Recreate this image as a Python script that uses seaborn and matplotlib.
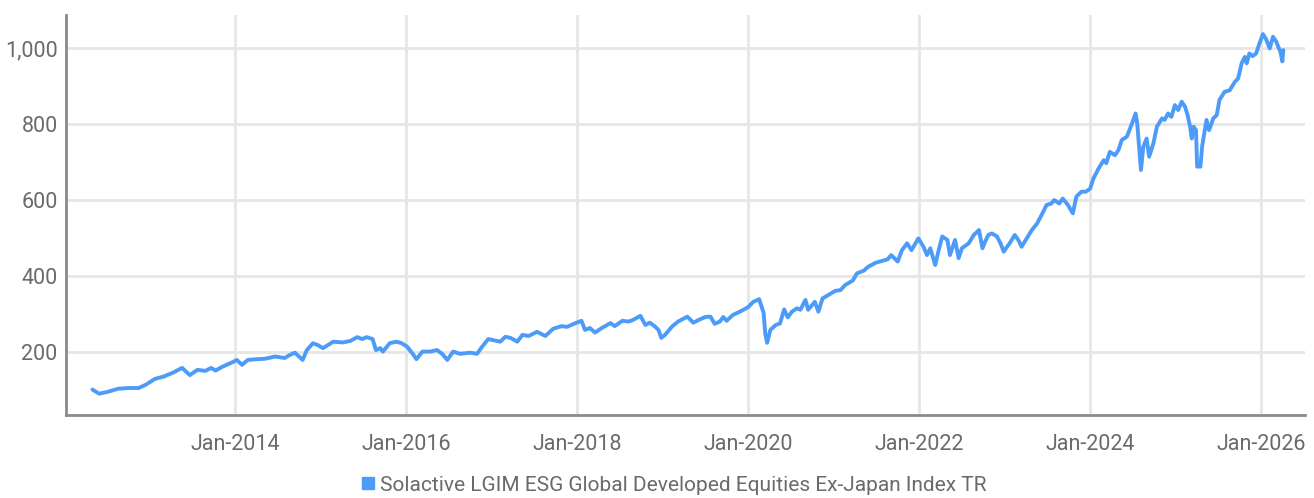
import pandas as pd
import seaborn as sns
import matplotlib.pyplot as plt
import matplotlib.dates as mdates
from matplotlib.ticker import FuncFormatter
from matplotlib.lines import Line2D

# index levels
dates = [
    "2012-05-01", "2012-05-30", "2012-07-05", "2012-08-18", "2012-10-01", "2012-11-14", "2012-12-13",
    "2013-01-23", "2013-02-28", "2013-04-09", "2013-05-19", "2013-06-21", "2013-07-24", "2013-08-26",
    "2013-09-20", "2013-10-09", "2013-11-07", "2013-12-17",
    "2014-01-08", "2014-01-30", "2014-02-24", "2014-04-05", "2014-05-08", "2014-06-21", "2014-07-31",
    "2014-08-22", "2014-09-13", "2014-10-16", "2014-11-03", "2014-11-29", "2014-12-20",
    "2015-01-11", "2015-02-24", "2015-04-06", "2015-05-08", "2015-06-06", "2015-06-28", "2015-07-16",
    "2015-08-11", "2015-08-25", "2015-09-13", "2015-09-24", "2015-10-23", "2015-11-21", "2015-12-13",
    "2016-01-05", "2016-01-27", "2016-02-14", "2016-03-11", "2016-04-13", "2016-05-12", "2016-06-03",
    "2016-06-25", "2016-07-20", "2016-08-18", "2016-10-01", "2016-10-30", "2016-11-21", "2016-12-17",
    "2017-01-15", "2017-02-06", "2017-02-28", "2017-03-22", "2017-04-20", "2017-05-12", "2017-06-07",
    "2017-07-13", "2017-08-18", "2017-09-20", "2017-10-27", "2017-11-18", "2017-12-25",
    "2018-01-19", "2018-02-03", "2018-02-24", "2018-03-18", "2018-04-16", "2018-05-23", "2018-06-10",
    "2018-07-13", "2018-08-08", "2018-08-26", "2018-09-28", "2018-10-19", "2018-11-07", "2018-11-29",
    "2018-12-14", "2018-12-26",
    "2019-01-11", "2019-02-10", "2019-03-08", "2019-04-16", "2019-05-12", "2019-06-03", "2019-07-02",
    "2019-07-24", "2019-08-11", "2019-09-02", "2019-09-17", "2019-10-01", "2019-10-27", "2019-12-06",
    "2020-01-01", "2020-01-23", "2020-02-17", "2020-03-07", "2020-03-14", "2020-03-22", "2020-04-05",
    "2020-04-28", "2020-05-16", "2020-06-03", "2020-06-18", "2020-07-06", "2020-07-28", "2020-08-11",
    "2020-09-02", "2020-09-13", "2020-10-12", "2020-10-27", "2020-11-14", "2020-12-09",
    "2021-01-08", "2021-01-30", "2021-02-18", "2021-03-23", "2021-04-10", "2021-05-09", "2021-05-27",
    "2021-06-29", "2021-07-17", "2021-08-19", "2021-09-03", "2021-09-21", "2021-10-01", "2021-10-19",
    "2021-11-10", "2021-11-29", "2021-12-28",
    "2022-01-19", "2022-02-03", "2022-02-17", "2022-03-10", "2022-03-25", "2022-04-09", "2022-05-01",
    "2022-05-12", "2022-06-03", "2022-06-18", "2022-07-02", "2022-07-31", "2022-08-22", "2022-09-13",
    "2022-09-28", "2022-10-09", "2022-10-23", "2022-11-07", "2022-11-29", "2022-12-14", "2022-12-28",
    "2023-01-11", "2023-01-22", "2023-02-13", "2023-02-28", "2023-03-14", "2023-04-05", "2023-04-27",
    "2023-05-19", "2023-06-07", "2023-06-29", "2023-07-20", "2023-07-31", "2023-08-22", "2023-09-06",
    "2023-09-28", "2023-10-19", "2023-11-03", "2023-11-25", "2023-12-13",
    "2024-01-01", "2024-01-15", "2024-02-06", "2024-02-28", "2024-03-10", "2024-03-25", "2024-04-16",
    "2024-05-01", "2024-05-15", "2024-06-06", "2024-06-28", "2024-07-13", "2024-07-20", "2024-07-27",
    "2024-08-05", "2024-08-15", "2024-08-29", "2024-09-09", "2024-09-27", "2024-10-12", "2024-11-03",
    "2024-11-14", "2024-11-29", "2024-12-13", "2024-12-28",
    "2025-01-11", "2025-01-26", "2025-02-09", "2025-02-20", "2025-03-03", "2025-03-10", "2025-03-18",
    "2025-03-28", "2025-04-02", "2025-04-16", "2025-04-23", "2025-05-12", "2025-05-23", "2025-06-10",
    "2025-06-25", "2025-07-06", "2025-07-28", "2025-08-19", "2025-09-10", "2025-09-24", "2025-10-09",
    "2025-10-23", "2025-10-31", "2025-11-11", "2025-11-25", "2025-12-10", "2025-12-24",
    "2026-01-08", "2026-01-22", "2026-02-06", "2026-02-20", "2026-03-06", "2026-03-14", "2026-03-24",
    "2026-04-01", "2026-04-05",
]
values = [
    101, 90, 95, 103, 105, 105, 113,
    129, 135, 145, 158, 139, 153, 150,
    158, 151, 161, 172,
    179, 166, 179, 181, 182, 188, 184,
    192, 198, 179, 205, 223, 218,
    210, 227, 225, 229, 239, 234, 239,
    234, 205, 210, 201, 223, 227, 223,
    214, 197, 181, 201, 201, 205, 195,
    179, 201, 195, 198, 195, 214, 234,
    230, 227, 240, 237, 227, 245, 242,
    253, 242, 261, 268, 266, 276,
    282, 258, 263, 251, 263, 276, 268,
    282, 280, 284, 295, 271, 277, 267,
    258, 237,
    245, 267, 280, 293, 277, 284, 292,
    293, 274, 280, 292, 282, 297, 309,
    318, 332, 339, 303, 249, 224, 258,
    271, 275, 312, 291, 306, 315, 311,
    337, 311, 332, 306, 341, 350,
    361, 363, 376, 388, 407, 414, 424,
    435, 438, 444, 455, 444, 438, 468,
    486, 468, 499,
    477, 455, 473, 429, 468, 504, 495,
    455, 495, 447, 473, 486, 508, 521,
    473, 490, 508, 512, 504, 486, 464,
    477, 486, 508, 495, 477, 499, 521,
    538, 560, 587, 591, 600, 591, 604,
    587, 565, 609, 622, 622,
    630, 657, 683, 705, 697, 727, 718,
    732, 758, 767, 802, 828, 802, 749,
    679, 740, 762, 714, 749, 793, 815,
    811, 828, 819, 850,
    837, 859, 846, 824, 793, 762, 793,
    784, 688, 688, 740, 811, 784, 815,
    824, 863, 885, 889, 911, 920, 960,
    977, 960, 986, 979, 986, 1012,
    1037, 1023, 999, 1030, 1017, 1004, 990,
    965, 995,
]
series_name = "Solactive LGIM ESG Global Developed Equities Ex-Japan Index TR"

df = pd.DataFrame({"date": pd.to_datetime(dates), "value": values})

sns.set_style("white")
plt.rcParams["font.family"] = ["Roboto", "DejaVu Sans"]

line_color = "#4d9bf8"
text_color = "#6a6a6a"
spine_color = "#8a8a8a"

fig = plt.figure(figsize=(13.14, 4.98), dpi=100)
ax = fig.add_axes([0.0502, 0.1667, 0.943, 0.803])

sns.lineplot(data=df, x="date", y="value", ax=ax, color=line_color, linewidth=2.8, legend=False)

ax.set_xlim(pd.Timestamp("2012-01-09"), pd.Timestamp("2026-07-07"))
ax.set_ylim(34, 1087)
ax.set_yticks([200, 400, 600, 800, 1000])
ax.yaxis.set_major_formatter(FuncFormatter(lambda v, p: f"{v:,.0f}"))
ax.xaxis.set_major_locator(mdates.YearLocator(2))
ax.xaxis.set_major_formatter(mdates.DateFormatter("%b-%Y"))

ax.grid(True, color="#e6e6e6", linewidth=2)
ax.set_axisbelow(True)
ax.set_xlabel("")
ax.set_ylabel("")
ax.tick_params(axis="both", length=0, labelsize=15.5, colors=text_color)
ax.tick_params(axis="x", pad=14)
ax.tick_params(axis="y", pad=6)

for side in ["top", "right"]:
    ax.spines[side].set_visible(False)
for side in ["left", "bottom"]:
    ax.spines[side].set_color(spine_color)
    ax.spines[side].set_linewidth(2)

handle = Line2D([], [], marker="s", linestyle="none", color=line_color, markersize=8)
fig.legend([handle], [series_name], loc="center", bbox_to_anchor=(0.513, 0.026),
           frameon=False, fontsize=15, handlelength=0.6, handletextpad=0.25, labelcolor=text_color)

fig.savefig("out.png", dpi=100)
